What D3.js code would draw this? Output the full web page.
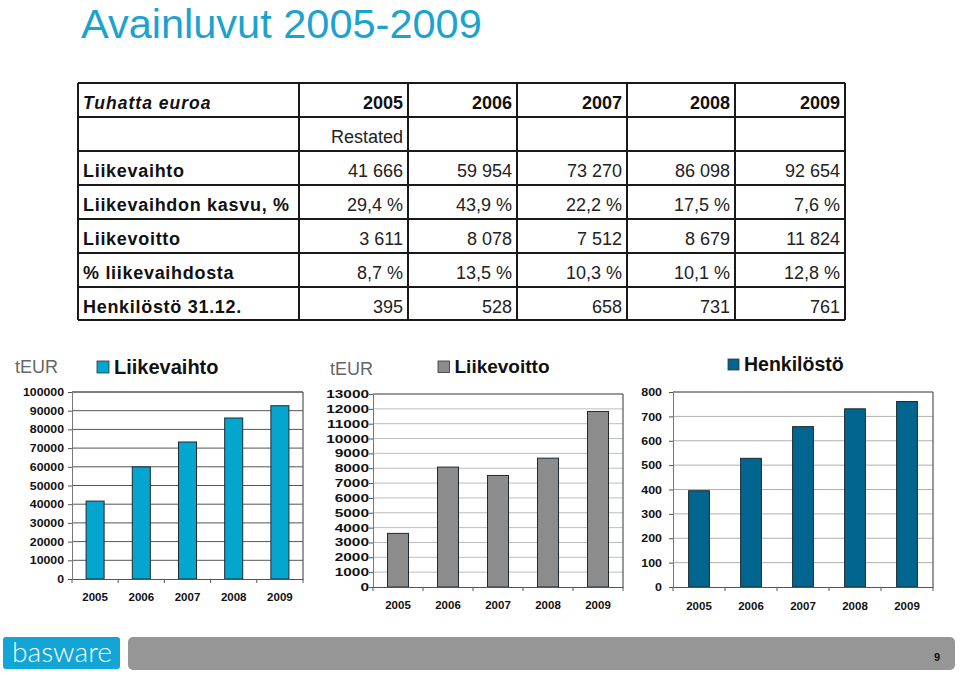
<!DOCTYPE html>
<html><head><meta charset="utf-8">
<script src="https://cdn.jsdelivr.net/npm/d3@7"></script>
<style>
body{margin:0;background:#fff;}
svg{display:block;font-family:"Liberation Sans",Arial,Helvetica,sans-serif;}
</style></head><body>
<svg id="c" width="960" height="675"></svg>
<script>
// ---- data ----
const title = "Avainluvut 2005-2009";
const tableHead = "Tuhatta euroa";
const restatedNote = "Restated";
const unitLabel = "tEUR";
const years = ["2005","2006","2007","2008","2009"];
const rowLabels = ["Liikevaihto","Liikevaihdon kasvu, %","Liikevoitto","% liikevaihdosta","Henkilöstö 31.12."];
const liikevaihto = [41666,59954,73270,86098,92654];
const kasvu = [29.4,43.9,22.2,17.5,7.6];
const liikevoitto = [3611,8078,7512,8679,11824];
const osuus = [8.7,13.5,10.3,10.1,12.8];
const henkilosto = [395,528,658,731,761];
const legendNames = ["Liikevaihto","Liikevoitto","Henkilöstö"];
const ticksLV = [0,10000,20000,30000,40000,50000,60000,70000,80000,90000,100000];
const ticksLVO = [0,1000,2000,3000,4000,5000,6000,7000,8000,9000,10000,11000,12000,13000];
const ticksH = [0,100,200,300,400,500,600,700,800];
const pageNumber = "9";
const logoText = "basware";

const svg = d3.select("#c");
const fi = d3.formatLocale({decimal:",", thousands:"\u2009", grouping:[3], currency:["","€"]});
const fInt = v => fi.format(",d")(v).replace("\u2009"," ");
const fPct = v => fi.format(".1f")(v) + " %";

// ---- title ----
svg.append("text").attr("x",81).attr("y",38).attr("font-size",41.5)
  .attr("fill","#1ba3cf").text(title);

// ---- table ----
const colX = [78,299,408,517,627,735,845];
const rowY = [83,117,151,185,219,253,287,320];
const tbl = svg.append("g");
const tableRows = [
  liikevaihto.map(fInt),
  kasvu.map(fPct),
  liikevoitto.map(fInt),
  osuus.map(fPct),
  henkilosto.map(fInt)
];
// header
tbl.append("text").attr("x",colX[0]+5).attr("y",rowY[0]+26)
  .attr("font-size",17.5).attr("font-weight","bold").attr("font-style","italic")
  .attr("letter-spacing",1).attr("fill","#111").text(tableHead);
tbl.selectAll("text.yr").data(years).join("text").attr("class","yr")
  .attr("x",(d,i)=>colX[i+2]-5).attr("y",rowY[0]+26).attr("text-anchor","end")
  .attr("font-size",18).attr("font-weight","bold").attr("fill","#111").text(d=>d);
tbl.append("text").attr("x",colX[2]-5).attr("y",rowY[1]+26).attr("text-anchor","end")
  .attr("font-size",18).attr("fill","#222").text(restatedNote);
rowLabels.forEach((lab,r)=>{
  tbl.append("text").attr("x",colX[0]+5).attr("y",rowY[r+2]+26)
    .attr("font-size",18).attr("font-weight","bold").attr("letter-spacing",0.7)
    .attr("fill","#111").text(lab);
  tbl.selectAll(null).data(tableRows[r]).join("text")
    .attr("x",(d,i)=>colX[i+2]-5).attr("y",rowY[r+2]+26).attr("text-anchor","end")
    .attr("font-size",18).attr("fill","#222").text(d=>d);
});
tbl.selectAll("line.h").data(rowY).join("line")
  .attr("x1",colX[0]).attr("x2",colX[6]).attr("y1",d=>d).attr("y2",d=>d)
  .attr("stroke","#1a1a1a").attr("stroke-width",2);
tbl.selectAll("line.v").data(colX).join("line")
  .attr("y1",rowY[0]).attr("y2",rowY[7]).attr("x1",d=>d).attr("x2",d=>d)
  .attr("stroke","#1a1a1a").attr("stroke-width",2);

// ---- bar charts ----
function barChart(o){
  const g = svg.append("g");
  const y = d3.scaleLinear().domain([0,o.max]).range([o.yBot,o.yTop]);
  const x = d3.scaleBand().domain(years).range([o.x0,o.x1]);
  // grid
  g.selectAll("line.grid").data(o.ticks.filter(t=>t>0)).join("line")
    .attr("x1",o.x0).attr("x2",o.x1).attr("y1",d=>y(d)).attr("y2",d=>y(d))
    .attr("stroke",o.grid).attr("stroke-width",1);
  // top & right border
  g.append("line").attr("x1",o.x0).attr("x2",o.x1).attr("y1",y(o.max)).attr("y2",y(o.max))
    .attr("stroke",o.border).attr("stroke-width",1.2);
  g.append("line").attr("x1",o.x1).attr("x2",o.x1).attr("y1",y(o.max)).attr("y2",y(0))
    .attr("stroke",o.border).attr("stroke-width",1.2);
  // bars
  const bw = x.bandwidth()*o.frac;
  g.selectAll("rect.bar").data(o.values).join("rect")
    .attr("x",(d,i)=>x(years[i])+(x.bandwidth()-bw)/2).attr("width",bw)
    .attr("y",d=>y(d)).attr("height",d=>y(0)-y(d))
    .attr("fill",o.color).attr("stroke","#1e2a30").attr("stroke-width",1);
  // y axis
  const ya = g.append("g").attr("transform",`translate(${o.x0},0)`)
    .call(d3.axisLeft(y).tickValues(o.ticks).tickSize(4).tickSizeOuter(0).tickFormat(d3.format("d")));
  ya.select(".domain").attr("stroke","#777");
  ya.selectAll(".tick line").attr("stroke","#555");
  ya.selectAll(".tick text")
    .attr("font-family","'Liberation Sans',Arial,sans-serif")
    .attr("font-size",o.tf).attr("font-weight","bold").attr("fill","#111")
    .attr("x",-o.gap/o.ts).attr("transform",`scale(${o.ts},1)`);
  // x axis
  const xa = g.append("g").attr("transform",`translate(0,${y(0)})`)
    .call(d3.axisBottom(x).tickSize(0).tickSizeOuter(0));
  xa.select(".domain").attr("stroke","#555");
  xa.selectAll(".tick text")
    .attr("font-family","'Liberation Sans',Arial,sans-serif")
    .attr("font-size",11.5).attr("font-weight","bold").attr("fill","#111")
    .attr("y",o.labDy).attr("dy","0");
  g.selectAll("line.xt").data(years.map(d=>x(d)).concat([o.x1])).join("line")
    .attr("x1",d=>d).attr("x2",d=>d).attr("y1",y(0)).attr("y2",y(0)+4)
    .attr("stroke","#555");
  // legend
  g.append("rect").attr("x",o.lx).attr("y",o.ly).attr("width",o.ls).attr("height",o.ls)
    .attr("fill",o.color).attr("stroke","#333").attr("stroke-width",0.8);
  g.append("text").attr("x",o.lx+o.ls+5).attr("y",o.ly+o.ls+0.5)
    .attr("font-size",o.lf).attr("font-weight","bold").attr("fill","#111").text(o.name);
  if(o.unit){
    g.append("text").attr("x",o.ux).attr("y",o.uy).attr("font-size",18)
      .attr("fill","#666").text(unitLabel);
  }
}

barChart({x0:72,x1:303,yTop:392,yBot:579,max:100000,ticks:ticksLV,values:liikevaihto,
  color:"#04a6cf",grid:"#555",border:"#555",tf:11,ts:1.12,gap:8,frac:0.39,labDy:22,
  lx:97,ly:361,ls:12,lf:20,name:legendNames[0],unit:true,ux:15,uy:373});
barChart({x0:373,x1:623,yTop:394,yBot:587,max:13000,ticks:ticksLVO,values:liikevoitto,
  color:"#8c8c8c",grid:"#bdbdbd",border:"#555",tf:11,ts:1.4,gap:4,frac:0.42,labDy:22,
  lx:438,ly:361,ls:11.5,lf:19,name:legendNames[1],unit:true,ux:330,uy:375});
barChart({x0:673,x1:933,yTop:392,yBot:587,max:800,ticks:ticksH,values:henkilosto,
  color:"#00668f",grid:"#b0b0b0",border:"#555",tf:11.5,ts:1.08,gap:11,frac:0.40,labDy:23,
  lx:728,ly:359,ls:11,lf:19.5,name:legendNames[2],unit:false});

// ---- footer ----
svg.append("rect").attr("x",3).attr("y",637).attr("width",117).attr("height",32).attr("rx",3)
  .attr("fill","#12a5d5");
svg.append("text").attr("x",12).attr("y",662).attr("font-family","Lato,'Open Sans',sans-serif")
  .attr("font-weight",300).attr("font-size",27).attr("fill","#fff")
  .attr("textLength",100).attr("lengthAdjust","spacingAndGlyphs").text(logoText);
svg.append("rect").attr("x",128).attr("y",637).attr("width",827).attr("height",33).attr("rx",5)
  .attr("fill","#969696");
svg.append("text").attr("x",937).attr("y",661).attr("text-anchor","middle")
  .attr("font-size",11).attr("font-weight","bold").attr("fill","#111").text(pageNumber);
</script>
</body></html>
